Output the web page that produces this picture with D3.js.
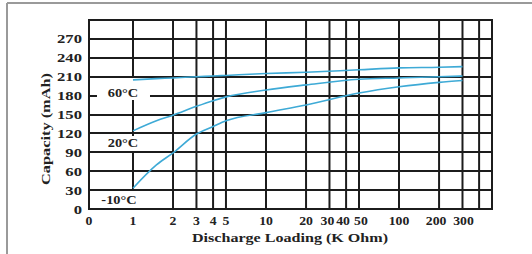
<!DOCTYPE html>
<html><head><meta charset="utf-8">
<script src="https://cdn.jsdelivr.net/npm/d3@7/dist/d3.min.js"></script>
<style>html,body{margin:0;padding:0;background:#fff;}svg{display:block;}</style>
</head><body><svg id="c" width="532" height="254"></svg>
<script>
// ---- data ----
const xTickValues = [0, 1, 2, 3, 4, 5, 10, 20, 30, 40, 50, 100, 200, 300];
const xGridValues = [1, 2, 3, 4, 5, 10, 20, 30, 40, 50, 100, 200, 300, 400];
const yTickValues = [0, 30, 60, 90, 120, 150, 180, 210, 240, 270];
const loads = [1, 1.5, 2, 3, 4, 5, 10, 20, 50, 100, 200, 300];
const cap60 = [205, 207, 208, 210, 211, 212, 215, 217, 221, 224, 225, 226];
const cap20 = [124, 140, 149, 163, 172, 178, 189, 197, 206, 208, 210, 211];
const capM10 = [33, 70, 89, 119, 131, 140, 153, 165, 184, 194, 201, 204];
const seriesNames = ["60\u00B0C", "20\u00B0C", "-10\u00B0C"];

const svg = d3.select("#c");
const L = 89, R = 492, T = 20, B = 209;
const xMin = 0.467;
const x = d3.scaleLog().domain([xMin, 500]).range([L, R]);
const xp = v => v === 0 ? x(xMin) : x(v);
const y = d3.scaleLinear().domain([0, 300]).range([B, T]);

const font = "'Liberation Serif','Times New Roman',serif";
const ink = "#1c1c1c";

// outer frame of the figure
svg.append("line").attr("x1", 7).attr("x2", 532).attr("y1", 3).attr("y2", 3).attr("stroke", "#9a9a9a").attr("stroke-width", 2);
svg.append("line").attr("x1", 7).attr("x2", 7).attr("y1", 3).attr("y2", 254).attr("stroke", "#9a9a9a").attr("stroke-width", 2);

// grid
const g = svg.append("g");
g.selectAll(".vg").data(xGridValues).enter().append("line")
  .attr("x1", d => x(d)).attr("x2", d => x(d)).attr("y1", T).attr("y2", B)
  .attr("stroke", ink).attr("stroke-width", 2);
g.selectAll(".hg").data(yTickValues.filter(v => v > 0)).enter().append("line")
  .attr("x1", L).attr("x2", R).attr("y1", d => Math.round(y(d))).attr("y2", d => Math.round(y(d)))
  .attr("stroke", ink).attr("stroke-width", 2);

// white boxes behind series labels
const x1 = x(1);
const boxes = [
  {x0: x1 - 36, x1: x1 + 17, y0: 78, y1: 100},
  {x0: x1 - 36, x1: x1 + 15, y0: 136, y1: 151},
  {x0: x1 - 38, x1: x1 + 14, y0: 191, y1: 208}
];
svg.selectAll(".box").data(boxes).enter().append("rect")
  .attr("x", d => d.x0).attr("y", d => d.y0).attr("width", d => d.x1 - d.x0).attr("height", d => d.y1 - d.y0)
  .attr("fill", "#fff");

// frame of plot
svg.append("rect").attr("x", L).attr("y", T).attr("width", R - L).attr("height", B - T)
  .attr("fill", "none").attr("stroke", ink).attr("stroke-width", 2);

// curves
const line = d3.line().x(d => x(d[0])).y(d => y(d[1])).curve(d3.curveMonotoneX);
[cap60, cap20, capM10].forEach(vals => {
  svg.append("path").datum(loads.map((l, i) => [l, vals[i]]))
    .attr("d", line).attr("fill", "none").attr("stroke", "#3eaad6").attr("stroke-width", 1.6);
});

// series labels
const labelPos = [{cx: x1 - 10, by: 97}, {cx: x1 - 10, by: 147}, {cx: x1 - 14, by: 204}];
seriesNames.forEach((n, i) => {
  svg.append("text").attr("transform", `translate(${labelPos[i].cx},${labelPos[i].by}) scale(1.15,1)`)
    .attr("text-anchor", "middle").attr("font-family", font).attr("font-weight", "bold")
    .attr("font-size", 12.5).attr("fill", "#222").text(n);
});

// y tick labels
svg.selectAll(".yt").data(yTickValues).enter().append("text")
  .attr("transform", d => `translate(82,${y(d) + 4.5}) scale(1.28,1)`)
  .attr("text-anchor", "end").attr("font-family", font).attr("font-weight", "bold")
  .attr("font-size", 13).attr("fill", "#222").text(d => d);

// x tick labels (small nudges where labels crowd)
const nudge = {30: -2, 40: -3, 50: 2, 200: -3, 300: 1};
svg.selectAll(".xt").data(xTickValues).enter().append("text")
  .attr("transform", d => `translate(${xp(d) + (nudge[d] || 0)},225) scale(1.1,1)`)
  .attr("text-anchor", "middle").attr("font-family", font).attr("font-weight", "bold")
  .attr("font-size", 12.5).attr("fill", "#222").text(d => d);

// axis titles
svg.append("text").attr("x", 290).attr("y", 242).attr("text-anchor", "middle")
  .attr("font-family", font).attr("font-weight", "bold").attr("font-size", 13).attr("fill", "#222")
  .attr("textLength", 196).attr("lengthAdjust", "spacingAndGlyphs").text("Discharge Loading (K Ohm)");
svg.append("text").attr("transform", "translate(50,129) rotate(-90)").attr("text-anchor", "middle")
  .attr("font-family", font).attr("font-weight", "bold").attr("font-size", 13).attr("fill", "#222")
  .attr("textLength", 112).attr("lengthAdjust", "spacingAndGlyphs").text("Capacity (mAh)");
</script></body></html>
